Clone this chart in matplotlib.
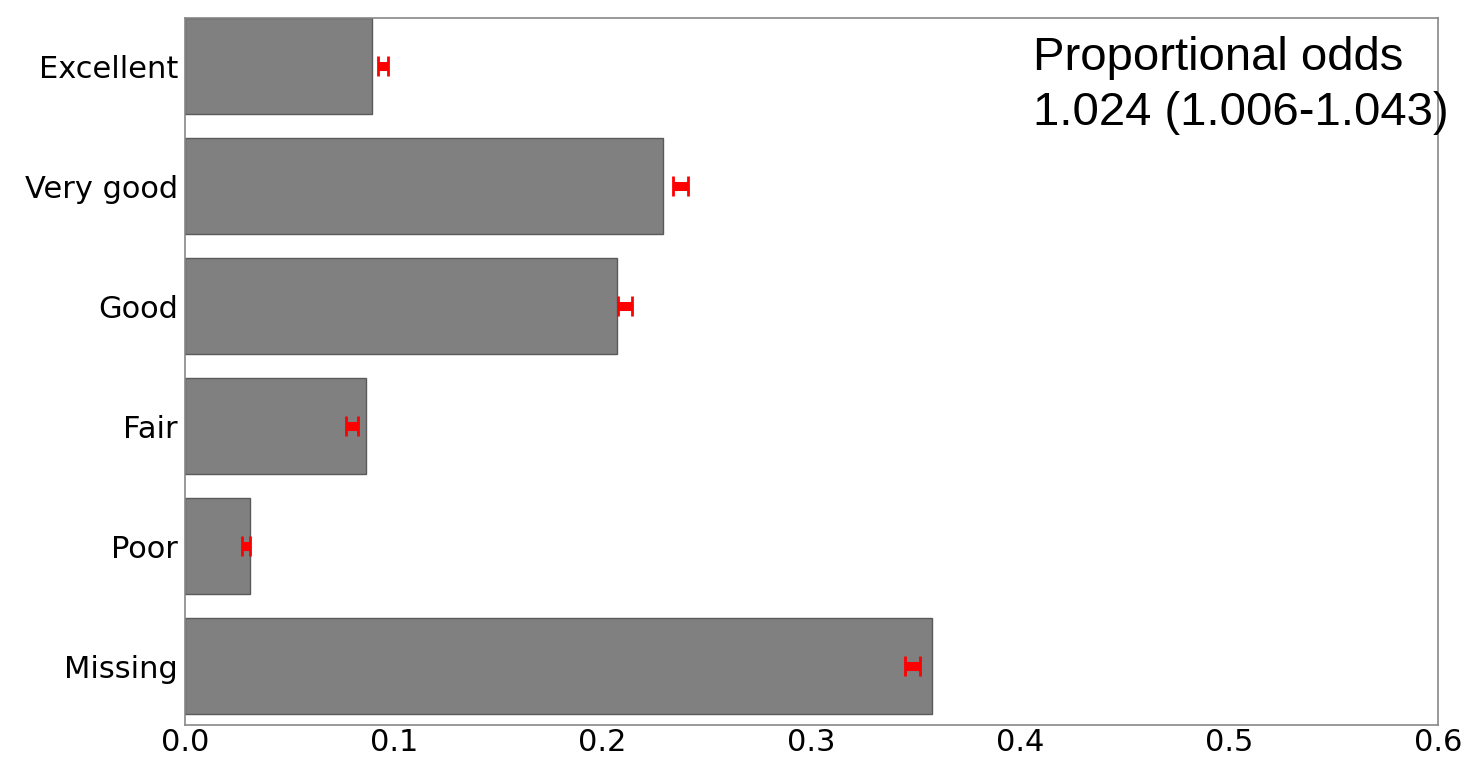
import numpy as np
import matplotlib.pyplot as plt

categories = ['Excellent', 'Very good', 'Good', 'Fair', 'Poor', 'Missing']
bar_values = [0.0895, 0.2290, 0.2070, 0.0867, 0.0310, 0.3575]
point_est = [0.0948, 0.2373, 0.2107, 0.0800, 0.0292, 0.3484]
ci_low = [0.0924, 0.2337, 0.2073, 0.0771, 0.0271, 0.3448]
ci_high = [0.0972, 0.2409, 0.2141, 0.0829, 0.0311, 0.3520]
xticks = [0.0, 0.1, 0.2, 0.3, 0.4, 0.5, 0.6]

fig = plt.figure(figsize=(14.68, 7.6), dpi=100)
ax = fig.add_axes([0.126, 0.046, 0.8536, 0.930])

y = np.arange(len(categories))
ax.barh(y, bar_values, height=0.8, color='#808080', edgecolor='#5a5a5a', linewidth=1)

err = [np.array(point_est) - np.array(ci_low), np.array(ci_high) - np.array(point_est)]
ax.errorbar(point_est, y, xerr=err, fmt='none', ecolor='red', elinewidth=6.5,
            capsize=7, capthick=2)

ax.set_xlim(0, 0.6)
ax.set_ylim(5.49, -0.4)
ax.set_yticks(y)
ax.set_yticklabels(categories)
ax.set_xticks(xticks)
ax.set_xticklabels([f'{t:.1f}' for t in xticks])
ax.tick_params(length=0, labelsize=22)
ax.tick_params(axis='y', pad=5)
ax.tick_params(axis='x', pad=2)
for s in ax.spines.values():
    s.set_color('#888888')
    s.set_linewidth(1.2)

fig.text(0.7037, 0.953, 'Proportional odds\n1.024 (1.006-1.043)', family='Liberation Sans',
         fontsize=34, va='top', ha='left', linespacing=1.32)

fig.savefig('out.png', dpi=100)
